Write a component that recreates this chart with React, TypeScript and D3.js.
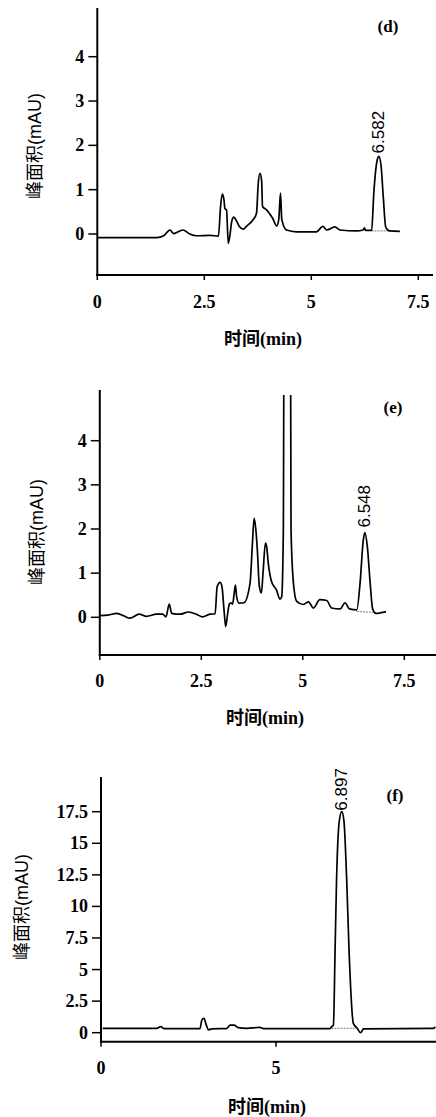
import React from "react";
import * as d3 from "d3";

// chromatogram traces, [time (min), signal (mAU)]
const traceD: [number, number][] = [
  [0, -0.08], [1.39, -0.08], [1.55, -0.04], [1.7, 0.09], [1.78, 0.01], [2.0, 0.09],
  [2.16, 0.0], [2.32, -0.04], [2.63, -0.03], [2.83, -0.05], [2.88, 0.62], [2.92, 0.9],
  [2.96, 0.77], [2.98, 0.58], [3.02, 0.54], [3.06, -0.21], [3.1, -0.02], [3.14, 0.28],
  [3.19, 0.38], [3.25, 0.3], [3.32, 0.17], [3.41, 0.11], [3.49, 0.18], [3.64, 0.32],
  [3.72, 0.47], [3.76, 1.14], [3.8, 1.37], [3.84, 1.2], [3.86, 0.62], [3.96, 0.54],
  [4.1, 0.35], [4.19, 0.18], [4.24, 0.33], [4.28, 0.92], [4.31, 0.33], [4.42, 0.09],
  [4.65, 0.05], [5.12, 0.05], [5.27, 0.17], [5.36, 0.09], [5.55, 0.16], [5.67, 0.09],
  [6.06, 0.07], [6.21, 0.09], [6.24, 0.14], [6.27, 0.08], [6.41, 0.08], [6.46, 0.92],
  [6.54, 1.67], [6.58, 1.75], [6.63, 1.54], [6.68, 0.86], [6.74, 0.15], [6.83, 0.07],
  [7.07, 0.06],
];

const traceE: [number, number][] = [
  [0, 0.04], [0.2, 0.05], [0.42, 0.09], [0.6, 0.03], [0.74, -0.02], [0.97, 0.07],
  [1.15, 0.02], [1.4, 0.07], [1.55, 0.07], [1.63, 0.01], [1.71, 0.3], [1.77, 0.09],
  [1.98, 0.07], [2.18, 0.12], [2.38, 0.07], [2.53, 0.01], [2.71, 0.07], [2.84, 0.08],
  [2.89, 0.69], [2.96, 0.79], [3.01, 0.69], [3.06, 0.16], [3.1, -0.21], [3.15, 0.09],
  [3.19, 0.3], [3.23, 0.33], [3.27, 0.3], [3.31, 0.54], [3.34, 0.73], [3.37, 0.47],
  [3.43, 0.32], [3.55, 0.33], [3.7, 0.77], [3.76, 1.68], [3.8, 2.24], [3.84, 2.02],
  [3.88, 1.53], [3.93, 0.7], [3.98, 0.55], [4.02, 1.0], [4.08, 1.68], [4.11, 1.6],
  [4.15, 1.22], [4.23, 0.81], [4.35, 0.62], [4.44, 0.41], [4.48, 0.47], [4.52, 1.9],
  [4.545, 9], [4.69, 9], [4.71, 1.98], [4.77, 0.77], [4.85, 0.36], [5.01, 0.29],
  [5.14, 0.35], [5.26, 0.21], [5.42, 0.4], [5.59, 0.38], [5.71, 0.21], [5.92, 0.19],
  [6.04, 0.33], [6.15, 0.19], [6.33, 0.17], [6.41, 0.77], [6.49, 1.75], [6.53, 1.92],
  [6.59, 1.6], [6.66, 0.77], [6.72, 0.19], [6.8, 0.09], [7.05, 0.13],
];

const traceF: [number, number][] = [
  [0.05, 0.35], [1.59, 0.35], [1.71, 0.48], [1.8, 0.33], [2.83, 0.33], [2.88, 1.0],
  [2.94, 1.14], [3.01, 0.6], [3.07, 0.23], [3.16, 0.3], [3.59, 0.33], [3.69, 0.6],
  [3.8, 0.6], [3.92, 0.4], [4.16, 0.35], [4.54, 0.42], [4.64, 0.33], [6.54, 0.33],
  [6.6, 0.5], [6.64, 0.6], [6.69, 6.8], [6.73, 12.1], [6.81, 16.8], [6.88, 17.5],
  [6.94, 16.8], [7.02, 12.1], [7.09, 6.3], [7.21, 0.74], [7.32, 0.35], [7.42, 0.0],
  [7.5, 0.3], [9.5, 0.35], [9.55, 0.48],
];

// integration baselines under the marked peaks
const baseD: [number, number][] = [[6.41, 0.07], [6.83, 0.07]];
const baseE: [number, number][] = [[6.33, 0.13], [6.8, 0.11]];
const baseF: [number, number][] = [[6.59, 0.35], [7.3, 0.35]];

const xTicksDE = [0, 2.5, 5, 7.5];
const yTicksDE = [0, 1, 2, 3, 4];
const xTicksF = [0, 5];
const yTicksF = [0, 2.5, 5, 7.5, 10, 12.5, 15, 17.5];

const peakD = { t: 6.582, label: "6.582" };
const peakE = { t: 6.548, label: "6.548" };
const peakF = { t: 6.897, label: "6.897" };

const xTitle = "时间(min)";
const yTitle = "峰面积(mAU)";

const SERIF = "'Liberation Serif', 'Times New Roman', 'Noto Sans CJK SC', serif";
const SANS = "'Liberation Sans', Arial, 'Noto Sans CJK SC', sans-serif";

type Pt = [number, number];

function Panel(props: any) {
  const {
    id, trace, base, peak, xTicks, yTicks, tag,
    x0, xLast, y0, yLast, yTop, xAxisY, axisRight, clipTop,
    xLabelY, xTitlePos, yTitlePos, tagPos, peakGap,
  } = props;

  const x = d3.scaleLinear().domain([0, xTicks[xTicks.length - 1]]).range([x0, xLast]);
  const y = d3.scaleLinear().domain([0, yTicks[yTicks.length - 1]]).range([y0, yLast]);
  const line = d3.line<Pt>().x((d) => x(d[0])).y((d) => y(d[1])).curve(d3.curveMonotoneX);
  const ax = x(0);

  // peak top for the retention-time label
  const near = trace.filter((d: Pt) => Math.abs(d[0] - peak.t) < 0.15);
  const top = near.reduce((a: Pt, b: Pt) => (b[1] > a[1] ? b : a), near[0]);
  const px = x(top[0]);
  const py = y(top[1]) - peakGap;

  return (
    <g>
      <defs>
        <clipPath id={`clip-${id}`}>
          <rect x={ax} y={clipTop} width={axisRight - ax} height={xAxisY - clipTop} />
        </clipPath>
      </defs>
      {/* axes */}
      <line x1={ax} x2={ax} y1={yTop} y2={xAxisY + 1} stroke="#000" strokeWidth={2} />
      <line x1={ax - 1} x2={axisRight} y1={xAxisY} y2={xAxisY} stroke="#000" strokeWidth={2} />
      {yTicks.map((v: number) => (
        <g key={"y" + v}>
          <line x1={ax - 9} x2={ax} y1={y(v)} y2={y(v)} stroke="#000" strokeWidth={1.5} />
          <text
            x={ax - 13}
            y={y(v)}
            textAnchor="end"
            dominantBaseline="central"
            fontFamily={SERIF}
            fontWeight="bold"
            fontSize={18}
          >
            {String(v)}
          </text>
        </g>
      ))}
      {xTicks.map((v: number) => (
        <g key={"x" + v}>
          <line x1={x(v)} x2={x(v)} y1={xAxisY} y2={xAxisY + 5} stroke="#000" strokeWidth={1.5} />
          <text
            x={x(v)}
            y={xLabelY}
            textAnchor="middle"
            dominantBaseline="central"
            fontFamily={SERIF}
            fontWeight="bold"
            fontSize={18}
          >
            {String(v)}
          </text>
        </g>
      ))}
      {/* trace */}
      <path
        d={line(base) || ""}
        fill="none"
        stroke="#777"
        strokeWidth={1}
        strokeDasharray="2,1"
      />
      <path
        d={line(trace) || ""}
        fill="none"
        stroke="#000"
        strokeWidth={1.7}
        strokeLinejoin="round"
        clipPath={`url(#clip-${id})`}
      />
      <text
        transform={`translate(${px},${py}) rotate(-90)`}
        textAnchor="start"
        dominantBaseline="central"
        fontFamily={SANS}
        fontSize={17}
      >
        {peak.label}
      </text>
      {/* titles */}
      <text
        x={xTitlePos[0]}
        y={xTitlePos[1]}
        textAnchor="middle"
        dominantBaseline="central"
        fontFamily={SERIF}
        fontWeight="bold"
        fontSize={18}
      >
        {xTitle}
      </text>
      <text
        transform={`translate(${yTitlePos[0]},${yTitlePos[1]}) rotate(-90)`}
        textAnchor="middle"
        dominantBaseline="central"
        fontFamily={SANS}
        fontSize={18}
      >
        {yTitle}
      </text>
      <text
        x={tagPos[0]}
        y={tagPos[1]}
        textAnchor="middle"
        dominantBaseline="central"
        fontFamily={SERIF}
        fontWeight="bold"
        fontSize={17}
      >
        {tag}
      </text>
    </g>
  );
}

export default function App() {
  return (
    <svg
      width={436}
      height={1117}
      style={{ position: "absolute", left: 0, top: 0, background: "#fff" }}
    >
      <Panel
        id="d" trace={traceD} base={baseD} peak={peakD} tag="(d)"
        xTicks={xTicksDE} yTicks={yTicksDE}
        x0={97.3} xLast={418.3} y0={234} yLast={56.7}
        yTop={8} xAxisY={275} axisRight={433} clipTop={8}
        xLabelY={301.5} xTitlePos={[263, 339]} yTitlePos={[35, 146]}
        tagPos={[388, 26]} peakGap={3}
      />
      <Panel
        id="e" trace={traceE} base={baseE} peak={peakE} tag="(e)"
        xTicks={xTicksDE} yTicks={yTicksDE}
        x0={99.8} xLast={404.3} y0={617.3} yLast={440.7}
        yTop={390} xAxisY={655} axisRight={436} clipTop={395}
        xLabelY={681} xTitlePos={[265, 718]} yTitlePos={[37, 532]}
        tagPos={[393, 407]} peakGap={5}
      />
      <Panel
        id="f" trace={traceF} base={baseF} peak={peakF} tag="(f)"
        xTicks={xTicksF} yTicks={yTicksF}
        x0={101} xLast={276} y0={1032.7} yLast={811.7}
        yTop={777} xAxisY={1041.7} axisRight={436} clipTop={777}
        xLabelY={1068} xTitlePos={[267, 1107]} yTitlePos={[22, 907]}
        tagPos={[395, 795]} peakGap={1}
      />
    </svg>
  );
}
